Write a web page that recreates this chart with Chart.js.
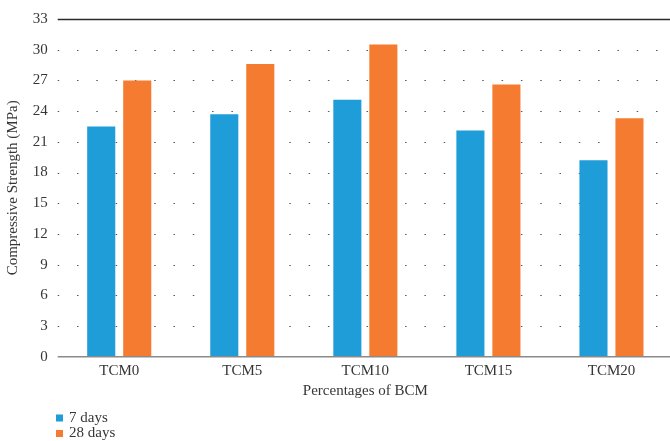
<!DOCTYPE html>
<html>
<head>
<meta charset="utf-8">
<script src="https://cdn.jsdelivr.net/npm/chart.js@4.4.1/dist/chart.umd.min.js"></script>
<style>
  html, body { margin: 0; padding: 0; background: #fff; overflow: hidden; }
  #wrap { width: 675px; height: 441px; }
</style>
</head>
<body>
<div id="wrap"><canvas id="c" width="675" height="441"></canvas></div>
<script>
// Compressive strength of mixes by BCM replacement level
const categories = ['TCM0', 'TCM5', 'TCM10', 'TCM15', 'TCM20'];
const days7 = [22.5, 23.7, 25.1, 22.1, 19.2];
const days28 = [27.0, 28.6, 30.5, 26.6, 23.3];
const seriesNames = ['7 days', '28 days'];
const yTicks = [0, 3, 6, 9, 12, 15, 18, 21, 24, 27, 30, 33];

const FONT = '"Liberation Serif", "DejaVu Serif", serif';
const TEXT = '#363636';
const BLUE = '#1f9dd8';
const ORANGE = '#f47b2f';

// Horizontal guide lines: solid at the top and bottom, dotted in between
const gridPlugin = {
  id: 'guides',
  beforeDatasetsDraw(chart) {
    const { ctx, chartArea, scales } = chart;
    const y = scales.y;
    ctx.save();
    yTicks.forEach(v => {
      if (v === 0) return;
      const py = Math.round(y.getPixelForValue(v)) + 0.5;
      ctx.beginPath();
      if (v === yTicks[yTicks.length - 1]) {
        ctx.setLineDash([]);
        ctx.strokeStyle = '#2b2b2b';
        ctx.lineWidth = 1.5;
      } else {
        ctx.setLineDash([1.5, 17.8]);
        ctx.strokeStyle = '#555';
        ctx.lineWidth = 1.2;
      }
      ctx.moveTo(chartArea.left, py);
      ctx.lineTo(chartArea.right, py);
      ctx.stroke();
    });
    ctx.restore();
  },
  afterDatasetsDraw(chart) {
    const { ctx, chartArea, scales } = chart;
    const py = scales.y.getPixelForValue(0);
    ctx.save();
    ctx.strokeStyle = '#8a8a8a';
    ctx.lineWidth = 1.5;
    ctx.beginPath();
    ctx.moveTo(chartArea.left, py);
    ctx.lineTo(chartArea.right, py);
    ctx.stroke();
    ctx.restore();
  }
};

// Legend stacked vertically under the axis title
const stackedLegend = {
  id: 'stackedLegend',
  afterDraw(chart) {
    const { ctx } = chart;
    ctx.save();
    ctx.font = '15px ' + FONT;
    ctx.textBaseline = 'middle';
    chart.data.datasets.forEach((ds, i) => {
      const cy = 418 + i * 15.5;
      ctx.fillStyle = ds.backgroundColor;
      ctx.fillRect(56, cy - 3.5, 7, 7);
      ctx.fillStyle = TEXT;
      ctx.fillText(ds.label, 69, cy);
    });
    ctx.restore();
  }
};

new Chart(document.getElementById('c'), {
  type: 'bar',
  data: {
    labels: categories,
    datasets: [
      { label: seriesNames[0], data: days7, backgroundColor: BLUE, borderWidth: 0 },
      { label: seriesNames[1], data: days28, backgroundColor: ORANGE, borderWidth: 0 }
    ]
  },
  options: {
    responsive: false,
    animation: false,
    devicePixelRatio: 1,
    categoryPercentage: 0.585,
    barPercentage: 0.78,
    layout: { padding: { top: 12, right: 2, bottom: 41, left: 0 } },
    plugins: {
      legend: { display: false },
      tooltip: { enabled: false }
    },
    scales: {
      x: {
        afterFit(scale) { scale.height = 43.3; },
        grid: { display: false, drawTicks: false },
        border: { display: false },
        ticks: { color: TEXT, font: { family: FONT, size: 15 }, padding: 5 },
        title: {
          display: true,
          text: 'Percentages of BCM',
          color: TEXT,
          font: { family: FONT, size: 15 },
          padding: { top: 0, bottom: 0 }
        }
      },
      y: {
        min: 0,
        max: 33,
        afterBuildTicks(scale) {
          scale.ticks = yTicks.map(v => ({ value: v }));
        },
        afterFit(scale) { scale.width = 57.7; },
        grid: { display: false, drawTicks: false },
        border: { display: false },
        ticks: { color: TEXT, font: { family: FONT, size: 15 }, padding: 10 },
        title: {
          display: true,
          text: 'Compressive Strength (MPa)',
          color: TEXT,
          font: { family: FONT, size: 15 },
          padding: { top: 4, bottom: 0 }
        }
      }
    }
  },
  plugins: [gridPlugin, stackedLegend]
});
</script>
</body>
</html>
